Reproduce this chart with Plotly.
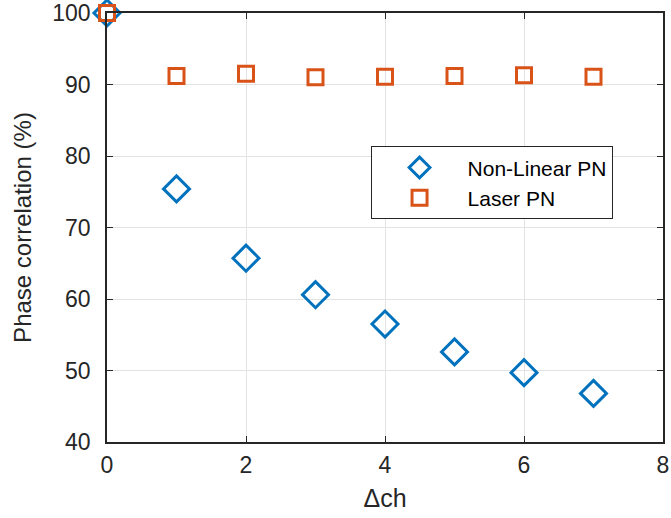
import plotly.graph_objects as go

delta_ch = [0, 1, 2, 3, 4, 5, 6, 7]
nonlinear_pn = [100, 75.4, 65.7, 60.6, 56.5, 52.6, 49.7, 46.8]
laser_pn = [100, 91.2, 91.5, 91.0, 91.1, 91.2, 91.3, 91.1]

x_ticks = [0, 2, 4, 6, 8]
y_ticks = [40, 50, 60, 70, 80, 90, 100]

font_family = "Liberation Sans, Arial, Helvetica, sans-serif"
axis_col = "#262626"

fig = go.Figure()
fig.add_trace(go.Scatter(
    x=delta_ch, y=nonlinear_pn, mode="markers", name="Non-Linear PN",
    marker=dict(symbol="diamond-open", size=20, color="#0072BD",
                line=dict(width=3, color="#0072BD")),
    cliponaxis=False,
))
fig.add_trace(go.Scatter(
    x=delta_ch, y=laser_pn, mode="markers", name="Laser PN",
    marker=dict(symbol="square-open", size=15, color="#D95319",
                line=dict(width=3, color="#D95319")),
    cliponaxis=False,
))

axis_common = dict(
    showline=True, linecolor=axis_col, linewidth=1.5, mirror="ticks",
    ticks="inside", ticklen=6, tickwidth=1.2, tickcolor=axis_col,
    showgrid=True, gridcolor="#e3e3e3", gridwidth=1, zeroline=False,
    tickfont=dict(family=font_family, size=23, color=axis_col),
    automargin=False,
)

fig.update_xaxes(range=[0, 8], tickvals=x_ticks, ticklabelstandoff=2,
                 title=dict(text="Δch", font=dict(family=font_family, size=25, color=axis_col), standoff=12),
                 **axis_common)
fig.update_yaxes(range=[40, 100], tickvals=y_ticks, ticklabelstandoff=10,
                 title=dict(text="Phase correlation (%)", font=dict(family=font_family, size=24, color=axis_col), standoff=14),
                 **axis_common)

fig.update_layout(
    width=671, height=518,
    margin=dict(l=107, r=8, t=13, b=76),
    plot_bgcolor="white", paper_bgcolor="white",
    font=dict(family=font_family, color=axis_col),
    legend=dict(
        x=0.474, y=0.604, xanchor="left", yanchor="middle",
        bgcolor="white", bordercolor="#262626", borderwidth=1,
        font=dict(family=font_family, size=21, color="black"),
        itemwidth=86, tracegroupgap=0,
        entrywidth=290, entrywidthmode="pixels",
    ),
)

fig.write_html(
    "out.html",
    config={"displayModeBar": False},
    post_script="document.body.style.margin='0';document.documentElement.style.overflow='hidden';document.body.style.overflow='hidden';",
)
